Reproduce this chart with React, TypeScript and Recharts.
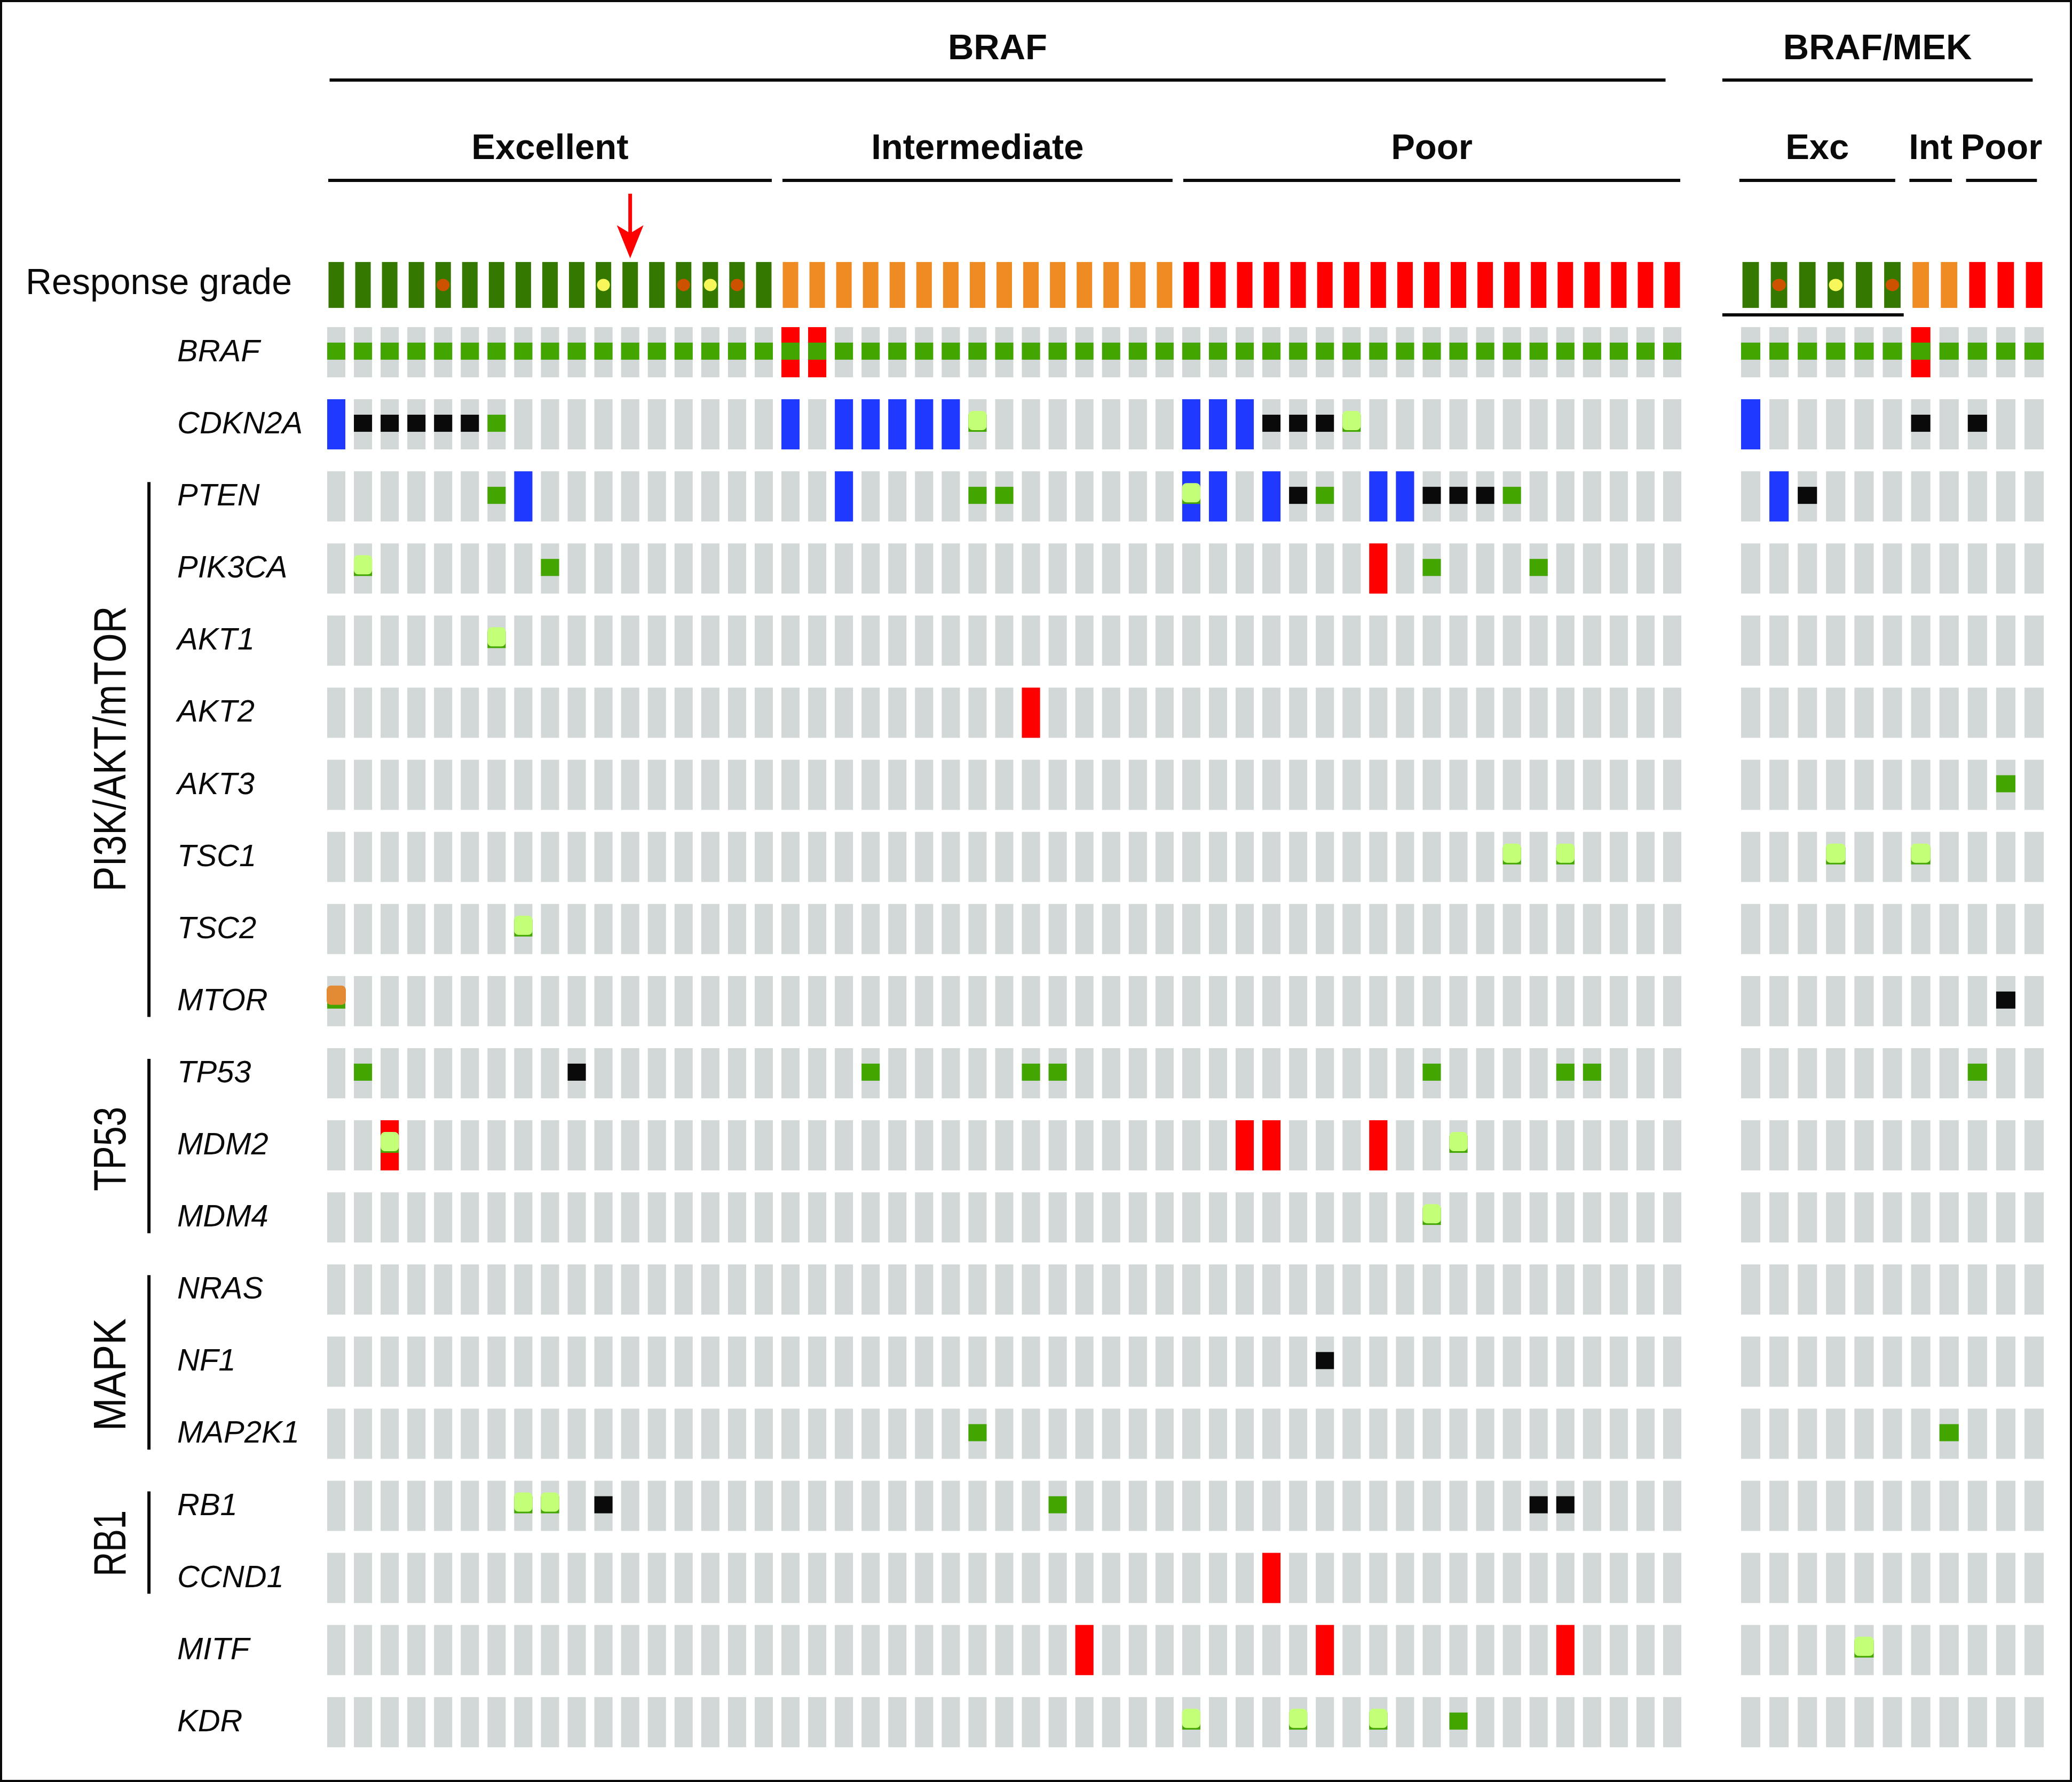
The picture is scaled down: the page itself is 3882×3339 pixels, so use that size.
import React from "react";
import { ScatterChart, Scatter, XAxis, YAxis, ReferenceLine } from "recharts";

const FONT = '"Liberation Sans", Arial, Helvetica, sans-serif';
const INK = "#0a0a0a";
const GRAY = "#d1d8d7";
const C_AMP = "#ff0000";
const C_DEL = "#2039ff";
const C_TRUNC = "#0a0a0a";
const C_MIS = "#42a500";
const C_OTHER = "#c4ff78";
const C_FUSION = "#e38a35";
const RESP_COLORS = ["#357800", "#ee8b22", "#ff0000"];
const DOT_RED = "#cc5200";
const DOT_YELLOW = "#f7f75c";

// gene rows, top to bottom
const GENES = [
  "BRAF", "CDKN2A", "PTEN", "PIK3CA", "AKT1", "AKT2", "AKT3", "TSC1", "TSC2", "MTOR",
  "TP53", "MDM2", "MDM4", "NRAS", "NF1", "MAP2K1", "RB1", "CCND1", "MITF", "KDR",
];
const PATHWAYS = [
  { name: "PI3K/AKT/mTOR", from: "PTEN", to: "MTOR" },
  { name: "TP53", from: "TP53", to: "MDM4" },
  { name: "MAPK", from: "NRAS", to: "MAP2K1" },
  { name: "RB1", from: "RB1", to: "CCND1" },
];

type Pair = [string, number]; // [gene, sample column]

// BRAF inhibitor cohort
const BRAF_GROUPS = ["Excellent", "Intermediate", "Poor"];
const BRAF_GROUP_N = [17, 15, 19];
const BRAF_RED_DOTS = [4, 13, 15];
const BRAF_YELLOW_DOTS = [10, 14];
const BRAF_ARROW = [11];
const BRAF_AMP: Pair[] = [
  ["BRAF", 17], ["BRAF", 18], ["PIK3CA", 39], ["AKT2", 26], ["MDM2", 2], ["MDM2", 34],
  ["MDM2", 35], ["MDM2", 39], ["CCND1", 35], ["MITF", 28], ["MITF", 37], ["MITF", 46],
];
const BRAF_DEL: Pair[] = [
  ["CDKN2A", 0], ["CDKN2A", 17], ["CDKN2A", 19], ["CDKN2A", 20], ["CDKN2A", 21], ["CDKN2A", 22],
  ["CDKN2A", 23], ["CDKN2A", 32], ["CDKN2A", 33], ["CDKN2A", 34], ["PTEN", 7], ["PTEN", 19],
  ["PTEN", 32], ["PTEN", 33], ["PTEN", 35], ["PTEN", 39], ["PTEN", 40],
];
const BRAF_TRUNC: Pair[] = [
  ["CDKN2A", 1], ["CDKN2A", 2], ["CDKN2A", 3], ["CDKN2A", 4], ["CDKN2A", 5], ["CDKN2A", 35],
  ["CDKN2A", 36], ["CDKN2A", 37], ["PTEN", 36], ["PTEN", 41], ["PTEN", 42], ["PTEN", 43],
  ["TP53", 9], ["NF1", 37], ["RB1", 10], ["RB1", 45], ["RB1", 46],
];
const BRAF_MIS: Pair[] = [
  ["CDKN2A", 6], ["PTEN", 6], ["PTEN", 24], ["PTEN", 25], ["PTEN", 37], ["PTEN", 44],
  ["PIK3CA", 8], ["PIK3CA", 41], ["PIK3CA", 45], ["TP53", 1], ["TP53", 20], ["TP53", 26],
  ["TP53", 27], ["TP53", 41], ["TP53", 46], ["TP53", 47], ["MAP2K1", 24], ["RB1", 27], ["KDR", 42],
];
const BRAF_OTHER: Pair[] = [
  ["CDKN2A", 24], ["CDKN2A", 38], ["PTEN", 32], ["PIK3CA", 1], ["AKT1", 6], ["TSC1", 44],
  ["TSC1", 46], ["TSC2", 7], ["MDM2", 2], ["MDM2", 42], ["MDM4", 41], ["RB1", 7], ["RB1", 8],
  ["KDR", 32], ["KDR", 36], ["KDR", 39],
];
const BRAF_FUSION: Pair[] = [["MTOR", 0]];

// BRAF/MEK inhibitor cohort
const MEK_GROUPS = ["Exc", "Int", "Poor"];
const MEK_GROUP_N = [6, 2, 3];
const MEK_RED_DOTS = [1, 5];
const MEK_YELLOW_DOTS = [3];
const MEK_AMP: Pair[] = [["BRAF", 6]];
const MEK_DEL: Pair[] = [["CDKN2A", 0], ["PTEN", 1]];
const MEK_TRUNC: Pair[] = [["CDKN2A", 6], ["CDKN2A", 8], ["PTEN", 2], ["MTOR", 9]];
const MEK_MIS: Pair[] = [["AKT3", 9], ["TP53", 8], ["MAP2K1", 7]];
const MEK_OTHER: Pair[] = [["TSC1", 3], ["TSC1", 6], ["MITF", 4]];
const MEK_FUSION: Pair[] = [];

// ---- layout ----
const CHART_H = 3339;
const ROW_PX = 135.1;
const Y_MIN = -4.5;
const Y_MAX = 19.5;
const M_TOP = 52;
const M_BOTTOM = CHART_H - M_TOP - (Y_MAX - Y_MIN) * ROW_PX;
const CELL_H = 94;
const RESP_H = 86;
const RESPONSE_ROW = -0.933;
const ARROW_ROW = -1.303;
const TOP_TEXT_ROW = -4.064;
const TOP_LINE_ROW = -3.775;
const SUB_TEXT_ROW = -2.68;
const SUB_LINE_ROW = -2.383;
const RESP_LINE_ROW = -0.518;
const BRACKET_COL = -7.01;
const PATHWAY_TEXT_COL = -7.89;
const PATHWAY_LEN: Record<string, number> = { "PI3K/AKT/mTOR": 535, TP53: 158, MAPK: 211, RB1: 124 };
const PATHWAY_SHIFT: Record<string, number> = { "PI3K/AKT/mTOR": 0, TP53: 0.05, MAPK: 0.18, RB1: 0.02 };

interface Geo {
  left: number; width: number; origin: number; colPx: number; xMin: number; xMax: number;
  topLine: [number, number]; subPad: [number, number]; respLine?: [number, number];
}
const GEO_BRAF: Geo = {
  left: 0, width: 3240, origin: 630, colPx: 50.06, xMin: -12.5, xMax: 52,
  topLine: [-0.25, 49.75], subPad: [0.3, 0.3],
};
const GEO_MEK: Geo = {
  left: 3200, width: 682, origin: 3280, colPx: 53.1, xMin: -1.3, xMax: 11.2,
  topLine: [-1.0, 9.95], subPad: [0.4, 0.1], respLine: [-1.0, 5.4],
};

interface Cohort {
  title: string; groups: string[]; sizes: number[]; redDots: number[]; yellowDots: number[];
  arrows: number[]; amp: Pair[]; del: Pair[]; trunc: Pair[]; mis: Pair[]; other: Pair[]; fusion: Pair[];
}
const BRAF_COHORT: Cohort = {
  title: "BRAF", groups: BRAF_GROUPS, sizes: BRAF_GROUP_N, redDots: BRAF_RED_DOTS,
  yellowDots: BRAF_YELLOW_DOTS, arrows: BRAF_ARROW, amp: BRAF_AMP, del: BRAF_DEL,
  trunc: BRAF_TRUNC, mis: BRAF_MIS, other: BRAF_OTHER, fusion: BRAF_FUSION,
};
const MEK_COHORT: Cohort = {
  title: "BRAF/MEK", groups: MEK_GROUPS, sizes: MEK_GROUP_N, redDots: MEK_RED_DOTS,
  yellowDots: MEK_YELLOW_DOTS, arrows: [], amp: MEK_AMP, del: MEK_DEL,
  trunc: MEK_TRUNC, mis: MEK_MIS, other: MEK_OTHER, fusion: MEK_FUSION,
};

const toPts = (pairs: Pair[]) => pairs.map(([g, s]) => ({ x: s, y: GENES.indexOf(g) }));

function GeneTick(props: any) {
  const v = props.payload?.value;
  const y = props.y;
  if (v < 0) {
    return (
      <text x={48} y={y + 17} fontFamily={FONT} fontSize={68} fill={INK}>
        Response grade
      </text>
    );
  }
  return (
    <text x={332} y={y + 17} fontFamily={FONT} fontSize={58} fontStyle="italic" fill={INK}>
      {GENES[v]}
    </text>
  );
}

function Panel({ cohort, geo, labels }: { cohort: Cohort; geo: Geo; labels: boolean }) {
  const mLeft = geo.origin - geo.left + geo.xMin * geo.colPx;
  const mRight = geo.width - mLeft - (geo.xMax - geo.xMin) * geo.colPx;
  const w = geo.colPx * 0.68;
  const rw = geo.colPx * 0.58;
  const n = cohort.sizes.reduce((a, b) => a + b, 0);

  // sample columns per response group
  const groupCols: { name: string; start: number; end: number; g: number }[] = [];
  let c = 0;
  cohort.groups.forEach((name, g) => {
    groupCols.push({ name, start: c, end: c + cohort.sizes[g] - 1, g });
    c += cohort.sizes[g];
  });

  const grid: { x: number; y: number }[] = [];
  GENES.forEach((_, gi) => {
    for (let s = 0; s < n; s++) grid.push({ x: s, y: gi });
  });
  const response: { x: number; y: number; g: number }[] = [];
  groupCols.forEach((gc) => {
    for (let s = gc.start; s <= gc.end; s++) response.push({ x: s, y: RESPONSE_ROW, g: gc.g });
  });
  // every sample carries the BRAF V600 mutation
  const brafMut = response.map((r) => ({ x: r.x, y: 0 }));

  const subLines = groupCols.map((gc) => {
    const a = gc.start - geo.subPad[0];
    const b = gc.end + geo.subPad[1];
    return { name: gc.name, a, b, mid: (a + b) / 2 };
  });
  const headerTexts = [
    { x: (geo.topLine[0] + geo.topLine[1]) / 2, y: TOP_TEXT_ROW, text: cohort.title },
    ...subLines.map((s) => ({ x: s.mid, y: SUB_TEXT_ROW, text: s.name })),
  ];
  const pathwayTexts = PATHWAYS.map((p) => ({
    x: PATHWAY_TEXT_COL,
    y: (GENES.indexOf(p.from) + GENES.indexOf(p.to)) / 2 + PATHWAY_SHIFT[p.name],
    text: p.name,
  }));

  const bg = (p: any) => <rect x={p.cx - w / 2} y={p.cy - CELL_H / 2} width={w} height={CELL_H} fill={GRAY} />;
  const full = (color: string) => (p: any) => (
    <rect x={p.cx - w / 2} y={p.cy - CELL_H / 2} width={w} height={CELL_H} fill={color} />
  );
  const band = (color: string) => (p: any) => (
    <rect x={p.cx - w / 2} y={p.cy - 18} width={w} height={32} fill={color} />
  );
  const other = (p: any) => (
    <g>
      <rect x={p.cx - w / 2} y={p.cy - 18} width={w} height={32} fill={C_MIS} />
      <rect x={p.cx - w / 2} y={p.cy - 25} width={w} height={36} rx={8} fill={C_OTHER} />
    </g>
  );
  const fusion = (p: any) => (
    <g>
      <rect x={p.cx - w / 2} y={p.cy - 18} width={w} height={32} fill={C_MIS} />
      <rect x={p.cx - w / 2 - 1} y={p.cy - 29} width={w + 2} height={36} rx={8} fill={C_FUSION} />
    </g>
  );
  const resp = (p: any) => (
    <rect x={p.cx - rw / 2} y={p.cy - RESP_H / 2} width={rw} height={RESP_H} fill={RESP_COLORS[p.payload.g]} />
  );
  const dot = (color: string) => (p: any) => (
    <ellipse cx={p.cx} cy={p.cy} rx={geo.colPx * 0.24} ry={11.5} fill={color} />
  );
  const arrow = (p: any) => (
    <g fill="#ff0000">
      <rect x={p.cx - 3.5} y={p.cy - 121} width={7} height={76} />
      <path d={`M${p.cx},${p.cy} L${p.cx - 25},${p.cy - 62} L${p.cx},${p.cy - 47} L${p.cx + 25},${p.cy - 62} Z`} />
    </g>
  );
  const headerText = (p: any) => (
    <text x={p.cx} y={p.cy} textAnchor="middle" fontFamily={FONT} fontWeight={700} fontSize={67} fill={INK}>
      {p.payload.text}
    </text>
  );
  const pathwayText = (p: any) => (
    <text
      transform={`translate(${p.cx},${p.cy}) rotate(-90)`}
      textAnchor="middle"
      fontFamily={FONT}
      fontSize={85}
      fill={INK}
      textLength={PATHWAY_LEN[p.payload.text]}
      lengthAdjust="spacingAndGlyphs"
    >
      {p.payload.text}
    </text>
  );

  const yTicks = [RESPONSE_ROW, ...GENES.map((_, i) => i)];

  return (
    <div style={{ position: "absolute", left: geo.left, top: 0 }}>
      <ScatterChart
        width={geo.width}
        height={CHART_H}
        margin={{ top: M_TOP, bottom: M_BOTTOM, left: mLeft, right: mRight }}
      >
        <XAxis type="number" dataKey="x" domain={[geo.xMin, geo.xMax]} allowDataOverflow hide />
        {labels ? (
          <YAxis
            type="number"
            dataKey="y"
            domain={[Y_MIN, Y_MAX]}
            reversed
            allowDataOverflow
            mirror
            ticks={yTicks}
            interval={0}
            axisLine={false}
            tickLine={false}
            tick={(p: any) => <GeneTick {...p} />}
          />
        ) : (
          <YAxis type="number" dataKey="y" domain={[Y_MIN, Y_MAX]} reversed allowDataOverflow hide />
        )}

        <Scatter data={grid} shape={bg} isAnimationActive={false} />
        <Scatter data={toPts(cohort.amp)} shape={full(C_AMP)} isAnimationActive={false} />
        <Scatter data={toPts(cohort.del)} shape={full(C_DEL)} isAnimationActive={false} />
        <Scatter data={brafMut} shape={band(C_MIS)} isAnimationActive={false} />
        <Scatter data={toPts(cohort.mis)} shape={band(C_MIS)} isAnimationActive={false} />
        <Scatter data={toPts(cohort.trunc)} shape={band(C_TRUNC)} isAnimationActive={false} />
        <Scatter data={toPts(cohort.other)} shape={other} isAnimationActive={false} />
        <Scatter data={toPts(cohort.fusion)} shape={fusion} isAnimationActive={false} />

        <Scatter data={response} shape={resp} isAnimationActive={false} />
        <Scatter data={cohort.redDots.map((x) => ({ x, y: RESPONSE_ROW }))} shape={dot(DOT_RED)} isAnimationActive={false} />
        <Scatter data={cohort.yellowDots.map((x) => ({ x, y: RESPONSE_ROW }))} shape={dot(DOT_YELLOW)} isAnimationActive={false} />
        <Scatter data={cohort.arrows.map((x) => ({ x, y: ARROW_ROW }))} shape={arrow} isAnimationActive={false} />

        <Scatter data={headerTexts} shape={headerText} isAnimationActive={false} />
        <ReferenceLine
          segment={[{ x: geo.topLine[0], y: TOP_LINE_ROW }, { x: geo.topLine[1], y: TOP_LINE_ROW }]}
          stroke={INK}
          strokeWidth={6}
          ifOverflow="visible"
        />
        {subLines.map((s) => (
          <ReferenceLine
            key={s.name}
            segment={[{ x: s.a, y: SUB_LINE_ROW }, { x: s.b, y: SUB_LINE_ROW }]}
            stroke={INK}
            strokeWidth={6}
            ifOverflow="visible"
          />
        ))}
        {geo.respLine && (
          <ReferenceLine
            segment={[{ x: geo.respLine[0], y: RESP_LINE_ROW }, { x: geo.respLine[1], y: RESP_LINE_ROW }]}
            stroke={INK}
            strokeWidth={6}
            ifOverflow="visible"
          />
        )}

        {labels && <Scatter data={pathwayTexts} shape={pathwayText} isAnimationActive={false} />}
        {labels &&
          PATHWAYS.map((p) => (
            <ReferenceLine
              key={p.name}
              segment={[
                { x: BRACKET_COL, y: GENES.indexOf(p.from) - 0.2 },
                { x: BRACKET_COL, y: GENES.indexOf(p.to) + 0.22 },
              ]}
              stroke={INK}
              strokeWidth={6}
              ifOverflow="visible"
            />
          ))}
      </ScatterChart>
    </div>
  );
}

export default function App() {
  return (
    <div style={{ position: "absolute", left: 0, top: 0, width: 3882, height: CHART_H, background: "#fff" }}>
      <Panel cohort={BRAF_COHORT} geo={GEO_BRAF} labels />
      <Panel cohort={MEK_COHORT} geo={GEO_MEK} labels={false} />
      <div
        style={{
          position: "absolute",
          left: 0,
          top: 0,
          width: 3882,
          height: CHART_H,
          boxSizing: "border-box",
          border: `4px solid ${INK}`,
          pointerEvents: "none",
        }}
      />
    </div>
  );
}
